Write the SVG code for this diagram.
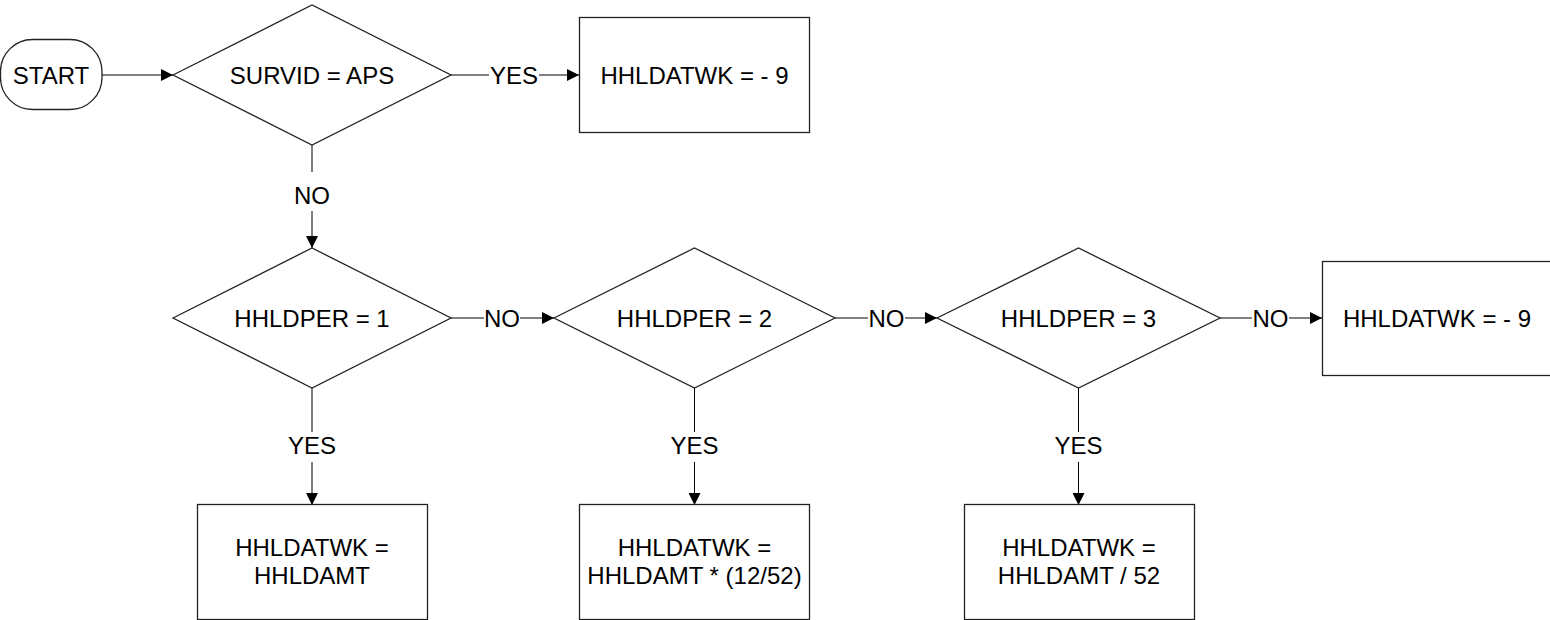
<svg xmlns="http://www.w3.org/2000/svg" width="1550" height="620" viewBox="0 0 1550 620">
  <defs>
    <marker id="arr" markerWidth="12" markerHeight="12" refX="12" refY="6" orient="auto" markerUnits="userSpaceOnUse">
      <path d="M0,0 L12,6 L0,12 z" fill="#000"/>
    </marker>
    <style>
      .shape { fill: #fff; stroke: #222; stroke-width: 1.3; }
      .line { fill: none; stroke: #000; stroke-width: 1; }
      .arrow { fill: none; stroke: #000; stroke-width: 1; marker-end: url(#arr); }
      text { font-family: "Liberation Sans", Arial, sans-serif; font-size: 24px; fill: #000; text-anchor: middle; }
    </style>
  </defs>
  <rect width="1550" height="620" fill="#fff"/>

  <g id="connectors">
    <line class="arrow" x1="102" y1="75" x2="173" y2="75"/>
    <line class="line" x1="451" y1="75" x2="489" y2="75"/>
    <line class="arrow" x1="539" y1="75" x2="579" y2="75"/>
    <text x="514" y="83.5">YES</text>
    <line class="line" x1="312" y1="145" x2="312" y2="172"/>
    <line class="arrow" x1="312" y1="211" x2="312" y2="248"/>
    <text x="312" y="203.5">NO</text>
    <line class="line" x1="451" y1="318" x2="484" y2="318"/>
    <line class="arrow" x1="520" y1="318" x2="554" y2="318"/>
    <text x="502" y="326.5">NO</text>
    <line class="line" x1="835" y1="318" x2="868" y2="318"/>
    <line class="arrow" x1="905" y1="318" x2="937" y2="318"/>
    <text x="886.5" y="326.5">NO</text>
    <line class="line" x1="1220" y1="318" x2="1252" y2="318"/>
    <line class="arrow" x1="1289" y1="318" x2="1322" y2="318"/>
    <text x="1270.5" y="326.5">NO</text>
    <line class="line" x1="312" y1="388" x2="312" y2="432"/>
    <line class="arrow" x1="312" y1="462" x2="312" y2="505"/>
    <text x="312" y="454">YES</text>
    <line class="line" x1="694.5" y1="388" x2="694.5" y2="432"/>
    <line class="arrow" x1="694.5" y1="462" x2="694.5" y2="505"/>
    <text x="694.5" y="454">YES</text>
    <line class="line" x1="1078.5" y1="388" x2="1078.5" y2="432"/>
    <line class="arrow" x1="1078.5" y1="462" x2="1078.5" y2="505"/>
    <text x="1078.5" y="454">YES</text>
  </g>

  <g id="start">
    <rect class="shape" x="0.5" y="39.5" width="101.5" height="70" rx="32" ry="32"/>
    <text x="51" y="83.5">START</text>
  </g>

  <g id="d-survid">
    <polygon class="shape" points="173,75 312,5 451,75 312,145"/>
    <text x="312" y="83.5">SURVID = APS</text>
  </g>

  <g id="box-aps">
    <rect class="shape" x="579.5" y="17.5" width="230" height="115"/>
    <text x="694.5" y="83.5">HHLDATWK = - 9</text>
  </g>

  <g id="d-per1">
    <polygon class="shape" points="173,318 312,248 451,318 312,388"/>
    <text x="312" y="326.5">HHLDPER = 1</text>
  </g>

  <g id="d-per2">
    <polygon class="shape" points="554,318 694.5,248 835,318 694.5,388"/>
    <text x="694.5" y="326.5">HHLDPER = 2</text>
  </g>

  <g id="d-per3">
    <polygon class="shape" points="937,318 1078.5,248 1220,318 1078.5,388"/>
    <text x="1078.5" y="326.5">HHLDPER = 3</text>
  </g>

  <g id="box-other">
    <rect class="shape" x="1322.5" y="261.5" width="230" height="114"/>
    <text x="1437" y="326.5">HHLDATWK = - 9</text>
  </g>

  <g id="box-per1">
    <rect class="shape" x="197.5" y="504.5" width="230" height="115"/>
    <text x="312" y="555.5">HHLDATWK =</text>
    <text x="312" y="583.5">HHLDAMT</text>
  </g>

  <g id="box-per2">
    <rect class="shape" x="579.5" y="504.5" width="230" height="115"/>
    <text x="694.5" y="555.5">HHLDATWK =</text>
    <text x="694.5" y="583.5">HHLDAMT * (12/52)</text>
  </g>

  <g id="box-per3">
    <rect class="shape" x="964.5" y="504.5" width="230" height="115"/>
    <text x="1079" y="555.5">HHLDATWK =</text>
    <text x="1079" y="583.5">HHLDAMT / 52</text>
  </g>
</svg>
